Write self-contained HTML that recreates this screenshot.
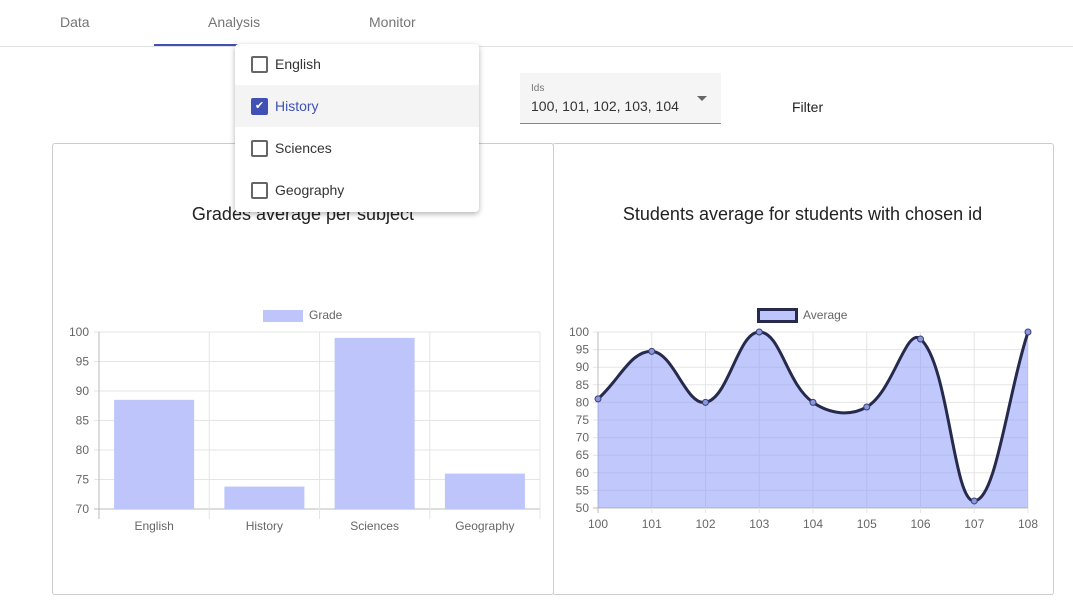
<!DOCTYPE html>
<html><head><meta charset="utf-8"><style>
body{margin:0;width:1073px;height:613px;overflow:hidden;background:#fff;font-family:"Liberation Sans",sans-serif;position:relative}
.abs{position:absolute}
.tab{position:absolute;top:14px;font-size:14px;color:#757575}
.item{position:absolute;left:235px;width:244px;height:42px}
.cb{position:absolute;left:16px;top:13px;width:13px;height:13px;border:2px solid #666;border-radius:2px}
.lbl{position:absolute;left:40px;top:13px;font-size:14px;color:#333}
.card{position:absolute;top:143px;height:450px;border:1px solid #ccc;border-radius:3px}
.title{position:absolute;width:100%;text-align:center;top:204px;font-size:18px;color:#222}
</style></head><body>
<div class="tab" style="left:60px">Data</div>
<div class="tab" style="left:208px">Analysis</div>
<div class="tab" style="left:369px">Monitor</div>
<div class="abs" style="left:0;top:46px;width:1073px;height:1px;background:#e0e0e0"></div>
<div class="abs" style="left:154px;top:44px;width:156px;height:2px;background:#3f51b5"></div>

<div class="abs" style="left:520px;top:73px;width:201px;height:50px;background:#f5f5f5;border-bottom:1px solid #888">
<div class="abs" style="left:11px;top:10px;font-size:10px;color:#777">Ids</div>
<div class="abs" style="left:11px;top:25px;font-size:14px;color:#333">100, 101, 102, 103, 104</div>
<div class="abs" style="left:177px;top:23px;width:0;height:0;border-left:5px solid transparent;border-right:5px solid transparent;border-top:5px solid #666"></div>
</div>
<div class="abs" style="left:792px;top:99px;font-size:14px;color:#222">Filter</div>

<div class="card" style="left:52px;width:500px"><div class="title" style="top:60px">Grades average per subject</div></div>
<div class="card" style="left:552px;width:501px;border-left:none"><div class="title" style="top:60px">Students average for students with chosen id</div></div>

<svg class="abs" style="left:0;top:0" width="1073" height="613" id="charts" font-family="Liberation Sans, sans-serif" font-size="12" fill="#666"></svg>

<div class="abs" style="left:235px;top:44px;width:244px;height:168px;background:#fff;border-radius:4px;box-shadow:0 2px 6px rgba(0,0,0,.3)"></div>
<div class="item" style="top:43px"><div class="cb"></div><div class="lbl">English</div></div>
<div class="item" style="top:85px;background:#f4f4f4"><div class="cb" style="background:#3f51b5;border-color:#3f51b5;color:#fff;font-size:11px;line-height:13px;text-align:center">✔</div><div class="lbl" style="color:#3f51b5">History</div></div>
<div class="item" style="top:127px"><div class="cb"></div><div class="lbl">Sciences</div></div>
<div class="item" style="top:169px"><div class="cb"></div><div class="lbl">Geography</div></div>

<script>
const barCats=["English","History","Sciences","Geography"];
const barVals=[88.5,73.8,99,76];
const barTicks=[70,75,80,85,90,95,100];
const lineCats=["100","101","102","103","104","105","106","107","108"];
const lineVals=[81,94.5,80,100,80,78.7,98,52,100];
const lineTicks=[50,55,60,65,70,75,80,85,90,95,100];
const svg=document.getElementById('charts');
const NS="http://www.w3.org/2000/svg";
function mk(t,a,p){const e=document.createElementNS(NS,t);for(const k in a)e.setAttribute(k,a[k]);(p||svg).appendChild(e);return e;}
// bar chart
const bx0=99,bx1=540,by0=509,by1=332;
const bY=v=>by0-(v-70)/(100-70)*(by0-by1);
const bw=(bx1-bx0)/barCats.length;
barTicks.forEach(t=>{const y=bY(t);
 const l=mk('line',{x1:bx0-5,x2:bx1,y1:y,y2:y,stroke:t==70?'#bbb':'#e5e5e5'});
 
 const tx=mk('text',{x:bx0-10,y:y+4,'text-anchor':'end'});tx.textContent=t;
 });
for(let i=0;i<=barCats.length;i++){const x=bx0+i*bw;
 const l=mk('line',{x1:x,x2:x,y1:by1,y2:by0+10,stroke:i==0?'#bbb':'#e5e5e5'});
 }
barCats.forEach((c,i)=>{const cx=bx0+bw*(i+.5),y=bY(barVals[i]);
 const r=mk('rect',{x:cx-40,y:y,width:80,height:by0-y,fill:'#bdc5fb'});
 
 const t=mk('text',{x:cx,y:530,'text-anchor':'middle'});t.textContent=c;
 });
let lg=mk('rect',{x:263,y:310,width:40,height:12,fill:'#bdc5fb'});

let lt=mk('text',{x:309,y:319});lt.textContent='Grade';

// line chart
const lx0=598,lx1=1028,ly0=508,ly1=332;
const lX=i=>lx0+i*(lx1-lx0)/(lineCats.length-1);
const lY=v=>ly0-(v-50)/(100-50)*(ly0-ly1);
lineTicks.forEach(t=>{const y=lY(t);
 const l=mk('line',{x1:lx0-5,x2:lx1,y1:y,y2:y,stroke:t==50?'#bbb':'#e5e5e5'});
 
 const tx=mk('text',{x:lx0-9,y:y+4,'text-anchor':'end'});tx.textContent=t;
 });
lineCats.forEach((c,i)=>{const x=lX(i);
 const l=mk('line',{x1:x,x2:x,y1:ly1,y2:ly0+5,stroke:i==0?'#bbb':'#e5e5e5'});
 
 const t=mk('text',{x:x,y:528,'text-anchor':'middle'});t.textContent=c;
 });
const pts=lineVals.map((v,i)=>[lX(i),lY(v)]);
const T=0.4;const cps=pts.map((p,i)=>{const pr=pts[i-1]||p,nx=pts[i+1]||p;
 const d01=Math.hypot(p[0]-pr[0],p[1]-pr[1]),d12=Math.hypot(nx[0]-p[0],nx[1]-p[1]);
 let fa=d01/(d01+d12||1),fb=d12/(d01+d12||1);fa*=T;fb*=T;
 return {p:[p[0]-fa*(nx[0]-pr[0]),p[1]-fa*(nx[1]-pr[1])],n:[p[0]+fb*(nx[0]-pr[0]),p[1]+fb*(nx[1]-pr[1])]};});
let d='M'+pts[0].join(',');
for(let i=1;i<pts.length;i++){d+=' C'+cps[i-1].n.join(',')+' '+cps[i].p.join(',')+' '+pts[i].join(',');}
const area=mk('path',{d:d+` L${lx1},${ly0} L${lx0},${ly0} Z`,fill:'rgba(140,155,250,0.55)'});

const ln=mk('path',{d:d,fill:'none',stroke:'#262a4d','stroke-width':3});

pts.forEach(p=>{const c=mk('circle',{cx:p[0],cy:p[1],r:3,fill:'#8a97e0',stroke:'#3a4170','stroke-width':1});
 });
lg=mk('rect',{x:758.5,y:309.5,width:38,height:12,fill:'#bdc5fb',stroke:'#262a4d','stroke-width':3});

lt=mk('text',{x:803,y:319});lt.textContent='Average';

</script>
</body></html>
